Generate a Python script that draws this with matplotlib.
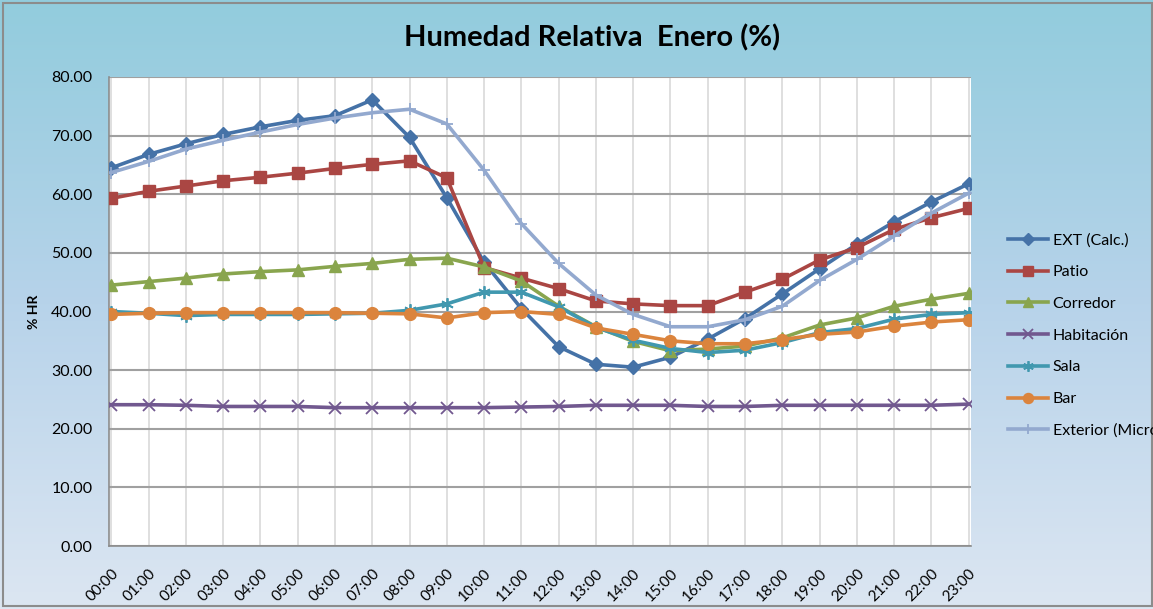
import numpy as np
import matplotlib
matplotlib.use("Agg")
import matplotlib.pyplot as plt
from matplotlib.patches import Rectangle
from matplotlib.colors import LinearSegmentedColormap

hours = ["00:00", "01:00", "02:00", "03:00", "04:00", "05:00", "06:00", "07:00",
         "08:00", "09:00", "10:00", "11:00", "12:00", "13:00", "14:00", "15:00",
         "16:00", "17:00", "18:00", "19:00", "20:00", "21:00", "22:00", "23:00"]

ext_calc = [64.5, 66.8, 68.6, 70.2, 71.5, 72.6, 73.4, 76.1, 69.7, 59.4, 48.4, 40.5,
            34.0, 31.0, 30.5, 32.2, 35.3, 38.8, 43.0, 47.3, 51.5, 55.3, 58.7, 61.8]
patio = [59.3, 60.5, 61.4, 62.3, 62.9, 63.6, 64.4, 65.1, 65.7, 62.8, 47.5, 45.7,
         43.9, 41.8, 41.3, 41.0, 41.0, 43.3, 45.5, 48.8, 50.9, 54.0, 56.0, 57.6]
corredor = [44.5, 45.1, 45.7, 46.4, 46.8, 47.1, 47.7, 48.2, 48.9, 49.1, 47.6, 45.2,
            40.9, 37.4, 34.9, 33.3, 33.6, 34.1, 35.5, 37.7, 38.9, 40.9, 42.1, 43.1]
habitacion = [24.1, 24.1, 24.0, 23.8, 23.8, 23.8, 23.6, 23.6, 23.6, 23.6, 23.6, 23.7,
              23.8, 24.0, 24.0, 24.0, 23.8, 23.8, 24.0, 24.0, 24.0, 24.0, 24.0, 24.2]
sala = [40.0, 39.7, 39.3, 39.5, 39.5, 39.5, 39.6, 39.7, 40.2, 41.3, 43.3, 43.3,
        40.8, 37.3, 35.1, 33.7, 33.0, 33.4, 34.7, 36.4, 37.1, 38.7, 39.5, 39.8]
bar = [39.5, 39.7, 39.8, 39.8, 39.8, 39.8, 39.8, 39.7, 39.6, 38.9, 39.8, 40.0,
       39.5, 37.2, 36.1, 35.0, 34.5, 34.5, 35.2, 36.1, 36.5, 37.5, 38.2, 38.6]
exterior_micro = [63.7, 65.6, 67.7, 69.2, 70.6, 71.9, 73.0, 73.9, 74.5, 72.0, 64.1, 55.0,
                  48.2, 42.8, 39.5, 37.4, 37.4, 38.6, 40.9, 45.3, 48.9, 52.9, 56.8, 60.2]

series_names = ["EXT (Calc.)", "Patio", "Corredor", "Habitación", "Sala", "Bar",
                "Exterior (Micro)"]

plt.rcParams['font.family'] = ['Lato', 'DejaVu Sans']

W, H = 1153, 609
fig = plt.figure(figsize=(W / 100, H / 100), dpi=100)

# background gradient
bg = fig.add_axes([0, 0, 1, 1], zorder=-10)
cmap = LinearSegmentedColormap.from_list("bg", ["#92CCDD", "#B7D3EA", "#DCE6F2"])
grad = np.linspace(0, 1, 256).reshape(-1, 1)
bg.imshow(grad, aspect='auto', cmap=cmap, extent=[0, 1, 0, 1], origin='upper')
bg.set_axis_off()
bg.add_patch(Rectangle((3 / W, 3 / H), 1 - 4 / W, 1 - 6 / H, transform=bg.transAxes,
                       fill=False, edgecolor="#8C8C8C", lw=1.5))

ax = fig.add_axes([109 / W, 1 - 546 / H, 862 / W, 469 / H])
ax.set_facecolor("white")

x = np.arange(len(hours))
styles = [
    (ext_calc, "#4572A7", "D", 7),
    (patio, "#AA4643", "s", 8),
    (corredor, "#89A54E", "^", 8.5),
    (habitacion, "#71588F", "x", 8),
    (sala, "#4198AF", (6, 2, 0), 9),
    (bar, "#DB843D", "o", 8.5),
    (exterior_micro, "#93A9CF", "+", 9),
]
for (vals, col, mk, ms), name in zip(styles, series_names):
    mew = 1.3 if mk in ("x", "+") or isinstance(mk, tuple) else 1
    ax.plot(x, vals, color=col, lw=2.6, marker=mk, markersize=ms,
            markeredgewidth=mew, markerfacecolor=col, markeredgecolor=col,
            label=name, zorder=3)

ax.set_xlim(-0.06, 23.06)
ax.set_ylim(0, 80)
ax.set_yticks(np.arange(0, 81, 10))
ax.set_yticklabels([f"{v:.2f}" for v in np.arange(0, 81, 10)], fontsize=11.5)
ax.set_xticks(x)
ax.set_xticklabels(hours, rotation=45, ha='right', rotation_mode='anchor', fontsize=11)
ax.tick_params(axis='both', length=0)
ax.tick_params(axis='y', pad=12)
ax.tick_params(axis='x', pad=15)

ax.grid(axis='y', color="#A0A0A0", lw=1.5, zorder=1)
ax.grid(axis='x', color="#D9D9D9", lw=1.2, zorder=1)
ax.set_axisbelow(True)
for s in ["top", "right"]:
    ax.spines[s].set_visible(False)
ax.spines["left"].set_color("#8C8C8C")
ax.spines["bottom"].set_color("#8C8C8C")
ax.spines["left"].set_linewidth(1.2)
ax.spines["bottom"].set_linewidth(1.2)

ax.set_ylabel("% HR", fontsize=10, fontweight='bold', labelpad=8)

fig.text(592 / W, 1 - 38 / H, "Humedad Relativa  Enero (%)", ha='center', va='center',
         fontsize=21, fontweight='bold')

handles, labels = ax.get_legend_handles_labels()
fig.legend(handles, labels, loc='upper left', bbox_to_anchor=(1008 / W, 1 - 233 / H),
           frameon=False, fontsize=11.5, handlelength=2.5, handletextpad=0.3,
           labelspacing=1.1, borderpad=0, borderaxespad=0, markerscale=0.85)

fig.savefig("out.png", dpi=100)
